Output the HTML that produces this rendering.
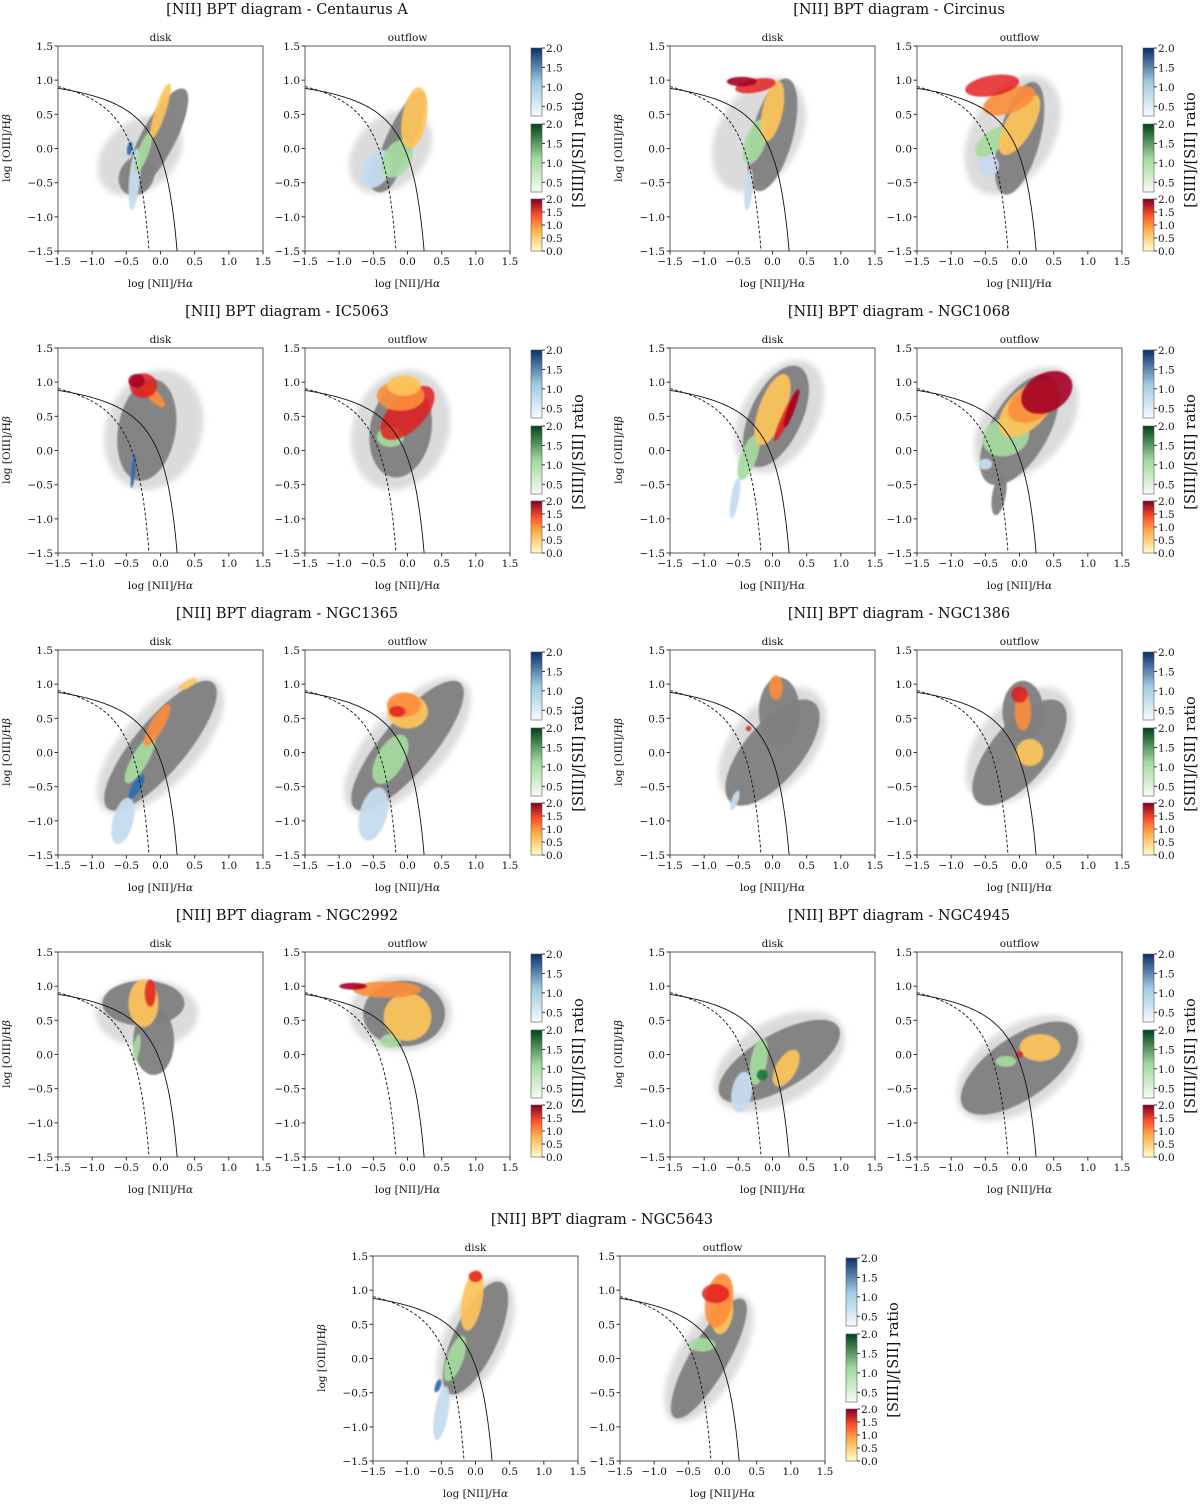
<!DOCTYPE html>
<html><head><meta charset="utf-8"><style>
body{margin:0;background:#fff}
svg{display:block;font-family:"DejaVu Serif","Liberation Serif",serif}
</style></head><body>
<svg id="fig" width="1200" height="1506" viewBox="0 0 1200 1506">
<defs>
<linearGradient id="gB" x1="0" y1="1" x2="0" y2="0"><stop offset="0" stop-color="#f7fbff"/><stop offset="0.5" stop-color="#9ecae1"/><stop offset="1" stop-color="#08306b"/></linearGradient>
<linearGradient id="gG" x1="0" y1="1" x2="0" y2="0"><stop offset="0" stop-color="#f7fcf5"/><stop offset="0.5" stop-color="#a1d99b"/><stop offset="1" stop-color="#00441b"/></linearGradient>
<linearGradient id="gR" x1="0" y1="1" x2="0" y2="0"><stop offset="0" stop-color="#ffffcc"/><stop offset="0.4" stop-color="#feb24c"/><stop offset="0.7" stop-color="#fc4e2a"/><stop offset="1" stop-color="#800026"/></linearGradient>
<filter id="fz"><feGaussianBlur stdDeviation="3"/></filter>
<filter id="fs"><feGaussianBlur stdDeviation="0.8"/></filter>
</defs>
</svg>
<script>
const galaxies=["Centaurus A","Circinus","IC5063","NGC1068","NGC1365","NGC1386","NGC2992","NGC4945","NGC5643"];
const xTicks=[-1.5,-1.0,-0.5,0.0,0.5,1.0,1.5];
const yTicks=[-1.5,-1.0,-0.5,0.0,0.5,1.0,1.5];
const cbTicksTop=[0.5,1.0,1.5,2.0];
const cbTicksBot=[0.0,0.5,1.0,1.5,2.0];
// blobs: [type, cx, cy, rx, ry, rotDeg] in data units
const blobsCenA_disk=[["h",-0.3,-0.1,0.7,0.5,40],["g",-0.05,0.12,0.85,0.25,62],["g",-0.35,-0.4,0.3,0.25,60],["lb",-0.38,-0.45,0.45,0.08,85],["db",-0.45,0.0,0.1,0.04,80],["gr",-0.25,-0.05,0.32,0.08,70],["y",0.0,0.55,0.42,0.08,72]];
const blobsCenA_out=[["h",-0.25,-0.05,0.7,0.5,45],["g",-0.1,0.15,0.75,0.2,65],["g",-0.35,-0.35,0.3,0.2,70],["lb",-0.45,-0.3,0.3,0.2,60],["gr",-0.15,-0.15,0.3,0.2,60],["y",0.1,0.45,0.45,0.18,80]];
const blobsCirc_disk=[["h",-0.2,0.2,0.9,0.6,60],["g",0.0,0.2,0.85,0.3,75],["gr",-0.25,0.1,0.35,0.15,70],["lb",-0.35,-0.6,0.3,0.06,85],["y",0.0,0.55,0.45,0.15,78],["r",-0.25,0.92,0.3,0.1,10],["dr",-0.45,0.98,0.22,0.07,0]];
const blobsCirc_out=[["h",-0.1,0.2,0.95,0.6,60],["g",0.0,0.15,0.85,0.3,75],["lb",-0.45,-0.25,0.15,0.15,0],["gr",-0.4,0.1,0.3,0.15,40],["y",0.0,0.35,0.5,0.2,60],["o",-0.15,0.7,0.4,0.18,20],["r",-0.4,0.92,0.4,0.15,10]];
const blobsIC_disk=[["h",-0.1,0.3,0.9,0.7,70],["g",-0.2,0.3,0.75,0.42,80],["db",-0.4,-0.3,0.25,0.03,85],["o",-0.1,0.8,0.22,0.08,-45],["r",-0.25,0.95,0.2,0.18,0],["dr",-0.35,1.02,0.12,0.1,0]];
const blobsIC_out=[["h",-0.1,0.3,0.9,0.7,70],["g",-0.1,0.3,0.7,0.45,80],["gr",-0.25,0.2,0.2,0.15,0],["r",0.0,0.55,0.5,0.25,45],["o",-0.1,0.8,0.35,0.22,0],["y",-0.05,0.95,0.25,0.15,0]];
const blobs1068_disk=[["h",0.1,0.5,0.9,0.55,60],["g",0.05,0.5,0.8,0.38,65],["lb",-0.55,-0.7,0.3,0.06,80],["gr",-0.35,-0.1,0.35,0.12,70],["y",0.0,0.6,0.55,0.2,70],["r",0.2,0.5,0.4,0.06,65],["dr",0.28,0.62,0.3,0.05,70]];
const blobs1068_out=[["h",0.1,0.4,0.95,0.6,50],["g",0.0,0.3,0.9,0.42,60],["g",-0.3,-0.65,0.3,0.1,80],["gr",-0.2,0.2,0.35,0.28,20],["lb",-0.5,-0.2,0.1,0.08,0],["y",0.1,0.6,0.5,0.28,45],["o",0.2,0.7,0.4,0.25,30],["dr",0.4,0.85,0.4,0.28,30]];
const blobs1365_disk=[["h",0.0,0.1,1.25,0.55,48],["g",0.0,0.1,1.2,0.38,50],["lb",-0.55,-1.0,0.35,0.15,75],["db",-0.35,-0.5,0.2,0.07,60],["gr",-0.3,-0.1,0.4,0.12,60],["o",-0.05,0.4,0.35,0.1,60],["y",0.4,1.0,0.15,0.05,30]];
const blobs1365_out=[["h",0.0,0.1,1.25,0.55,48],["g",0.0,0.1,1.2,0.38,50],["lb",-0.5,-0.9,0.4,0.2,75],["gr",-0.25,-0.1,0.4,0.2,60],["y",0.0,0.6,0.3,0.25,0],["o",-0.05,0.7,0.25,0.18,0],["r",-0.15,0.6,0.12,0.08,0]];
const blobs1386_disk=[["h",0.0,0.1,1.0,0.6,50],["g",0.0,0.0,0.95,0.42,50],["g",0.1,0.6,0.3,0.5,0],["lb",-0.55,-0.7,0.15,0.05,70],["r",-0.35,0.35,0.04,0.04,0],["o",0.05,0.95,0.1,0.18,0]];
const blobs1386_out=[["h",0.0,0.1,1.0,0.6,50],["g",0.0,0.0,0.95,0.42,50],["g",0.05,0.6,0.3,0.45,0],["y",0.15,0.0,0.2,0.2,0],["o",0.05,0.6,0.12,0.28,0],["r",0.0,0.85,0.12,0.12,0]];
const blobs2992_disk=[["h",-0.2,0.6,0.75,0.5,0],["g",-0.25,0.75,0.6,0.33,0],["g",-0.1,0.2,0.3,0.5,0],["gr",-0.35,0.1,0.2,0.05,80],["y",-0.25,0.75,0.35,0.22,90],["r",-0.15,0.9,0.2,0.08,90]];
const blobs2992_out=[["h",-0.1,0.6,0.75,0.55,0],["g",-0.05,0.6,0.6,0.48,0],["gr",-0.25,0.2,0.15,0.1,0],["y",0.0,0.55,0.35,0.35,0],["o",-0.3,0.95,0.5,0.12,0],["dr",-0.8,1.0,0.2,0.05,0]];
const blobs4945_disk=[["h",0.1,-0.1,1.05,0.6,30],["g",0.1,-0.1,1.0,0.4,30],["lb",-0.45,-0.55,0.3,0.15,80],["gr",-0.2,-0.1,0.35,0.12,80],["dg",-0.15,-0.3,0.08,0.08,0],["y",0.2,-0.2,0.3,0.15,60]];
const blobs4945_out=[["h",0.0,-0.2,1.05,0.6,35],["g",0.0,-0.2,1.0,0.45,35],["gr",-0.2,-0.1,0.15,0.08,0],["y",0.3,0.1,0.3,0.2,0],["r",0.0,0.0,0.05,0.05,0]];
const blobs5643_disk=[["h",0.0,0.3,0.95,0.45,65],["g",0.0,0.3,0.9,0.32,65],["lb",-0.5,-0.8,0.4,0.1,80],["db",-0.55,-0.4,0.1,0.04,70],["gr",-0.3,0.0,0.35,0.12,70],["y",-0.05,0.85,0.45,0.15,80],["r",0.0,1.2,0.1,0.08,0]];
const blobs5643_out=[["h",-0.2,0.0,1.05,0.45,60],["g",-0.2,0.0,1.0,0.28,60],["gr",-0.3,0.2,0.2,0.1,0],["y",0.0,0.65,0.3,0.15,80],["o",-0.05,0.85,0.4,0.2,80],["r",-0.1,0.95,0.2,0.14,0]];
const panelBlobs=[[blobsCenA_disk,blobsCenA_out],[blobsCirc_disk,blobsCirc_out],[blobsIC_disk,blobsIC_out],[blobs1068_disk,blobs1068_out],[blobs1365_disk,blobs1365_out],[blobs1386_disk,blobs1386_out],[blobs2992_disk,blobs2992_out],[blobs4945_disk,blobs4945_out],[blobs5643_disk,blobs5643_out]];

const colors={h:["#b8b8b8",0.5],g:["#808080",0.95],lb:["#c6dbef",0.95],db:["#2c6fb0",0.95],gr:["#a6dba0",0.92],dg:["#1b7837",0.9],y:["#fec35a",0.92],o:["#fd8d3c",0.9],r:["#e31a1c",0.82],dr:["#a50026",0.9]};
const NS="http://www.w3.org/2000/svg";
const svg=document.getElementById('fig');
function el(tag,attrs,parent){const e=document.createElementNS(NS,tag);for(const k in attrs)e.setAttribute(k,attrs[k]);(parent||svg).appendChild(e);return e;}
const W=205,H=205;

function panel(g,px,py,label,blobs){
  const sx=v=>px+(v+1.5)/3*W, sy=v=>py+H-(v+1.5)/3*H;
  const pg=el('g',{},g);
  
  
  const cid='c'+Math.round(px)+'_'+Math.round(py);
  const cp=el('clipPath',{id:cid},pg);el('rect',{x:px,y:py,width:W,height:H},cp);
  const mg=el('g',{'clip-path':'url(#'+cid+')'},pg);
  blobs.forEach(b=>{
    const [t,cx,cy,rx,ry,rot]=b;const c=colors[t];
    const e=el('ellipse',{cx:sx(cx),cy:sy(cy),rx:rx/3*W,ry:ry/3*H,fill:c[0],'fill-opacity':c[1],transform:'rotate('+(-rot)+' '+sx(cx)+' '+sy(cy)+')'},mg);
    e.setAttribute('filter',t==='h'?'url(#fz)':'url(#fs)');
    
    
  });
  let d1='',d2='';
  for(let i=0;i<=120;i++){const x=-1.5+i*(1.332/120);const y=0.61/(x-0.05)+1.3;d1+=(i?'L':'M')+sx(x).toFixed(1)+' '+sy(y).toFixed(1);}
  for(let i=0;i<=120;i++){const x=-1.5+i*(1.743/120);const y=0.61/(x-0.47)+1.19;d2+=(i?'L':'M')+sx(x).toFixed(1)+' '+sy(y).toFixed(1);}
  const k1=el('path',{d:d1,fill:'none',stroke:'#111','stroke-width':0.9,'stroke-dasharray':'3,2'},mg);
  
  
  const k2=el('path',{d:d2,fill:'none',stroke:'#111','stroke-width':0.9},mg);
  
  
  el('rect',{x:px,y:py,width:W,height:H,fill:'none',stroke:'#333','stroke-width':0.8},pg);
  xTicks.forEach(v=>{el('line',{x1:sx(v),x2:sx(v),y1:py+H,y2:py+H+3.5,stroke:'#333'},pg);
    const t=el('text',{x:sx(v),y:py+H+14,'font-size':10.5,'text-anchor':'middle',fill:'#111'},pg);t.textContent=(v<0?'\u2212':'')+Math.abs(v).toFixed(1);});
  yTicks.forEach(v=>{el('line',{x1:px-3.5,x2:px,y1:sy(v),y2:sy(v),stroke:'#333'},pg);
    const t=el('text',{x:px-5,y:sy(v)+4,'font-size':10.5,'text-anchor':'end',fill:'#111'},pg);t.textContent=(v<0?'\u2212':'')+Math.abs(v).toFixed(1);});
  const tt=el('text',{x:px+W/2,y:py-5,'font-size':10.5,'text-anchor':'middle',fill:'#111'},pg);tt.textContent=label;
  
  
  const xl=el('text',{x:px+W/2,y:py+H+36,'font-size':10.5,'text-anchor':'middle',fill:'#111'},pg);xl.innerHTML='log [NII]/H<tspan font-style="italic">α</tspan>';
  
  
}

function block(i,ox,oy){
  const g=el('g',{});
  
  
  const title=el('text',{x:ox+287,y:oy+14,'font-size':14.5,'text-anchor':'middle',fill:'#111'},g);
  title.textContent='[NII] BPT diagram - '+galaxies[i];
  
  
  panel(g,ox+58,oy+46,'disk',panelBlobs[i][0]);
  panel(g,ox+305,oy+46,'outflow',panelBlobs[i][1]);
  const yl=el('text',{'font-size':10.5,'text-anchor':'middle',fill:'#111',transform:'translate('+(ox+10)+','+(oy+148)+') rotate(-90)'},g);
  yl.innerHTML='log [OIII]/H<tspan font-style="italic">β</tspan>';
  
  
  const cbs=[['gB',oy+48,oy+116,cbTicksTop,0.25],['gG',oy+116+8,oy+192,cbTicksTop,0.25],['gR',oy+192+7,oy+251,cbTicksBot,0]];
  cbs.forEach((c,j)=>{
    const x=ox+531,y0=c[1],y1=c[2];
    const r=el('rect',{x:x,y:y0,width:11,height:y1-y0,fill:'url(#'+c[0]+')',stroke:'#555','stroke-width':0.6},g);
    
    
    const lo=c[4];
    c[3].forEach(v=>{const yy=y1-(v-lo)/(2-lo)*(y1-y0);
      el('line',{x1:x+11,x2:x+14,y1:yy,y2:yy,stroke:'#333'},g);
      const t=el('text',{x:x+15,y:yy+4,'font-size':10.5,fill:'#111'},g);t.textContent=v.toFixed(1);});
  });
  const cl=el('text',{'font-size':14.5,'text-anchor':'middle',fill:'#111',transform:'translate('+(ox+583)+','+(oy+150)+') rotate(-90)'},g);
  cl.textContent='[SIII]/[SII] ratio';
  
  
}
const offs=[[0,0],[612,0],[0,302],[612,302],[0,604],[612,604],[0,906],[612,906],[315,1210]];
offs.forEach((o,i)=>block(i,o[0],o[1]));
</script>
</body></html>
